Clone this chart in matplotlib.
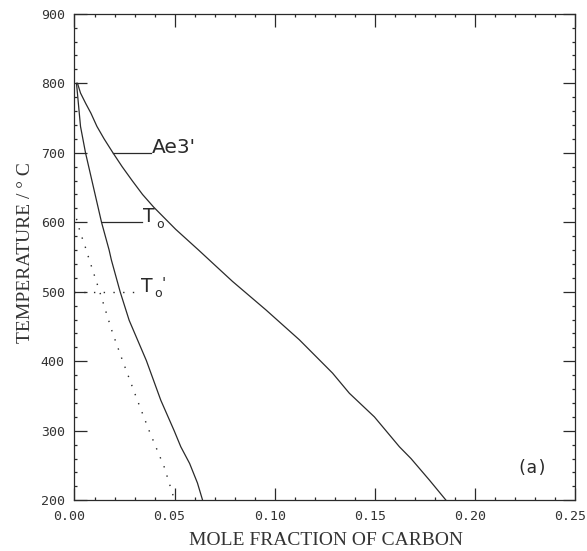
import numpy as np
import matplotlib
matplotlib.use("Agg")
import matplotlib.pyplot as plt
from matplotlib.ticker import MultipleLocator
from matplotlib.transforms import ScaledTranslation

# ---- data ----
ae3_temp = [800, 786, 771, 757, 738, 720, 700, 680, 660, 640, 622, 590, 560, 540, 515, 474, 431, 407, 383, 354, 320, 277, 260, 229, 200]
ae3_x = [0.0015, 0.0030, 0.0056, 0.0082, 0.0112, 0.0148, 0.0192, 0.0238, 0.0288, 0.0340, 0.0395, 0.0505,
         0.0620, 0.0695, 0.0789, 0.0956, 0.1123, 0.1206, 0.1289, 0.1373, 0.1498, 0.1623, 0.1681, 0.1773, 0.1856]

t0_temp = [800, 738, 700, 600, 560, 546, 500, 459, 401, 344, 300, 277, 253, 225, 200]
t0_x = [0.0010, 0.0030, 0.0055, 0.0135, 0.0173, 0.0184, 0.0228, 0.0273, 0.0359, 0.0431,
        0.0498, 0.0531, 0.0575, 0.0614, 0.0640]

t0p_temp = [605, 584, 570, 555, 500, 441, 401, 344, 300, 248, 200]
t0p_x = [0.0010, 0.0030, 0.0048, 0.0064, 0.0126, 0.0190, 0.0240, 0.0314, 0.0373, 0.0448, 0.0500]

x_ticks = [0.00, 0.05, 0.10, 0.15, 0.20, 0.25]
x_ticklabels = ["0.00", "0.05", "0.10", "0.15", "0.20", "0.25"]
y_ticks = [200, 300, 400, 500, 600, 700, 800, 900]

# label annotation anchors (temperature of leader line, end x of leader)
ae3_label_T, ae3_label_end = 700, 0.0380
t0_label_T, t0_label_end = 600, 0.0335
t0p_label_T, t0p_label_end = 500, 0.0325

ink = "#2a2a2a"
fig = plt.figure(figsize=(5.87, 5.51), dpi=100)
ax = fig.add_axes([74.5 / 587, 50.7 / 551, 500.5 / 587, 486.5 / 551])

ax.plot(ae3_x, ae3_temp, color=ink, lw=0.9)
ax.plot(t0_x, t0_temp, color=ink, lw=0.9)
ax.plot(t0p_x, t0p_temp, color=ink, lw=1.0, linestyle=(0, (1, 6)))

# leader lines
xa = np.interp(ae3_label_T, ae3_temp[::-1], ae3_x[::-1])
ax.plot([xa, ae3_label_end], [ae3_label_T, ae3_label_T], color=ink, lw=0.9)
xt = np.interp(t0_label_T, t0_temp[::-1], t0_x[::-1])
ax.plot([xt, t0_label_end], [t0_label_T, t0_label_T], color=ink, lw=0.9)
ax.plot([0.0, t0p_label_end], [t0p_label_T, t0p_label_T], color=ink, lw=1.0, linestyle=(0, (1, 6)))

lab_font = dict(family="DejaVu Sans", color=ink)
ax.text(ae3_label_end + 0.0008, ae3_label_T, "Ae3'", fontsize=14.5, va="baseline", ha="left", **lab_font)
ax.text(t0_label_end + 0.0005, t0_label_T, "T", fontsize=13.5, va="baseline", ha="left", **lab_font)
ax.text(t0_label_end + 0.0075, t0_label_T - 8, "o", fontsize=9, va="baseline", ha="left", **lab_font)
ax.text(t0p_label_end + 0.0005, t0p_label_T, "T", fontsize=13.5, va="baseline", ha="left", **lab_font)
ax.text(t0p_label_end + 0.0075, t0p_label_T - 8, "o", fontsize=9, va="baseline", ha="left", **lab_font)
ax.text(t0p_label_end + 0.0110, t0p_label_T + 4, "'", fontsize=11, va="baseline", ha="left", **lab_font)

ax.text(0.2285, 246, "(a)", fontsize=12.5, family="DejaVu Sans Mono", ha="center", va="center", color=ink)

ax.set_xlim(0, 0.25)
ax.set_ylim(200, 900)
ax.set_xticks(x_ticks)
ax.set_xticklabels(x_ticklabels)
ax.set_yticks(y_ticks)
ax.xaxis.set_minor_locator(MultipleLocator(0.01))
ax.yaxis.set_minor_locator(MultipleLocator(20))
ax.tick_params(which="both", direction="in", top=True, right=True, colors=ink, width=0.9)
ax.tick_params(which="major", length=9, labelsize=9.5, pad=7)
ax.tick_params(which="minor", length=2.5)
for lbl in ax.get_xticklabels() + ax.get_yticklabels():
    lbl.set_family("DejaVu Sans Mono")
    lbl.set_color("#333333")
for lbl in ax.get_xticklabels():
    lbl.set_transform(lbl.get_transform() + ScaledTranslation(-0.05, 0, fig.dpi_scale_trans))
for s in ax.spines.values():
    s.set_color(ink)
    s.set_linewidth(0.9)

ax.set_xlabel("MOLE FRACTION OF CARBON", family="Liberation Serif", fontsize=14, color="#333333")
ax.set_ylabel("TEMPERATURE / ° C", family="Liberation Serif", fontsize=14, color="#333333")
ax.xaxis.set_label_coords(0.503, -0.082)
ax.yaxis.set_label_coords(-0.097, 0.51)
ax.xaxis.label.set_va("center")
ax.yaxis.label.set_va("center")

fig.savefig("out.png", dpi=100)
